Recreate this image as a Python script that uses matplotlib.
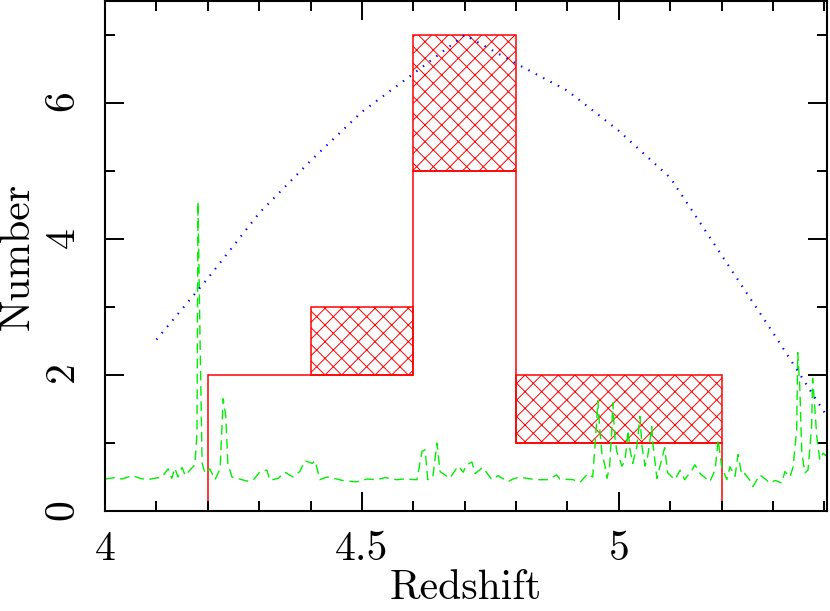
import matplotlib
matplotlib.use("Agg")
import matplotlib.pyplot as plt
from matplotlib.ticker import MultipleLocator, FuncFormatter

# histogram (solid outline) and hatched upper boxes
bin_edges = [4.2, 4.4, 4.6, 4.8, 5.0, 5.2]
counts = [2, 2, 5, 1, 1]
hatch_left = [4.4, 4.6, 4.8]
hatch_width = [0.2, 0.2, 0.4]
hatch_bottom = [2, 5, 1]
hatch_height = [1, 2, 1]

# blue dotted model curve
model_z = [4.1, 4.2, 4.3, 4.4, 4.5, 4.6, 4.7, 4.8, 4.9, 5.0, 5.1, 5.2, 5.3, 5.4]
model_n = [2.52, 3.42, 4.38, 5.15, 5.87, 6.43, 7.0, 6.58, 6.18, 5.59, 4.9, 3.76, 2.62, 1.45]

# green dashed spectrum
spec_z = [4.000, 4.019, 4.033, 4.045, 4.054, 4.068, 4.082, 4.097, 4.111, 4.123,
          4.130, 4.136, 4.142, 4.150, 4.156, 4.165, 4.175, 4.179, 4.181, 4.185,
          4.189, 4.195, 4.204, 4.214, 4.224, 4.230, 4.235, 4.239, 4.247, 4.257,
          4.276, 4.288, 4.302, 4.315, 4.321, 4.337, 4.350, 4.366, 4.379, 4.389,
          4.403, 4.409, 4.418, 4.432, 4.451, 4.467, 4.490, 4.510, 4.529, 4.545,
          4.568, 4.580, 4.607, 4.617, 4.623, 4.628, 4.638, 4.646, 4.652, 4.671,
          4.687, 4.697, 4.704, 4.714, 4.720, 4.735, 4.753, 4.765, 4.784, 4.794,
          4.807, 4.821, 4.840, 4.860, 4.879, 4.885, 4.911, 4.924, 4.940, 4.949,
          4.953, 4.957, 4.959, 4.963, 4.967, 4.973, 4.977, 4.982, 4.986, 4.988,
          4.992, 4.996, 5.006, 5.012, 5.018, 5.021, 5.027, 5.035, 5.041, 5.045,
          5.051, 5.056, 5.064, 5.066, 5.074, 5.080, 5.089, 5.095, 5.109, 5.119,
          5.128, 5.142, 5.148, 5.158, 5.177, 5.187, 5.191, 5.193, 5.200, 5.210,
          5.216, 5.226, 5.232, 5.239, 5.245, 5.255, 5.261, 5.274, 5.280, 5.294,
          5.304, 5.317, 5.323, 5.333, 5.339, 5.346, 5.348, 5.352, 5.356, 5.362,
          5.368, 5.375, 5.377, 5.381, 5.385, 5.391, 5.397, 5.405]
spec_n = [0.47, 0.49, 0.47, 0.50, 0.52, 0.48, 0.46, 0.48, 0.50, 0.62,
          0.48, 0.63, 0.50, 0.64, 0.52, 0.60, 0.68, 1.15, 4.55, 2.50,
          0.70, 0.55, 0.62, 0.46, 0.62, 1.65, 1.40, 0.70, 0.50, 0.48,
          0.44, 0.45, 0.58, 0.60, 0.45, 0.48, 0.57, 0.50, 0.58, 0.74,
          0.70, 0.74, 0.46, 0.50, 0.47, 0.44, 0.43, 0.47, 0.46, 0.49,
          0.46, 0.47, 0.46, 0.88, 0.90, 0.46, 0.50, 1.00, 0.58, 0.48,
          0.66, 0.57, 0.68, 0.72, 0.55, 0.64, 0.46, 0.52, 0.43, 0.47,
          0.50, 0.48, 0.46, 0.46, 0.53, 0.47, 0.46, 0.42, 0.55, 0.50,
          0.90, 1.34, 1.62, 1.19, 0.85, 0.66, 0.48, 0.66, 1.17, 1.59,
          1.10, 0.87, 0.66, 0.75, 1.19, 0.93, 0.70, 0.95, 1.39, 0.95,
          0.66, 0.80, 1.24, 1.00, 0.48, 0.66, 0.93, 0.56, 0.46, 0.60,
          0.46, 0.60, 0.68, 0.55, 0.43, 0.60, 0.87, 1.05, 0.66, 0.46,
          0.65, 0.51, 0.83, 0.53, 0.55, 0.45, 0.36, 0.53, 0.50, 0.41,
          0.45, 0.41, 0.58, 0.50, 0.65, 1.19, 2.33, 1.83, 0.85, 0.56,
          0.60, 1.24, 1.95, 1.54, 1.10, 0.75, 0.85, 0.80]

plt.rcParams['font.family'] = 'cmr10'
plt.rcParams['axes.formatter.use_mathtext'] = True
plt.rcParams['hatch.linewidth'] = 0.7
plt.rcParams['hatch.color'] = 'red'

fig = plt.figure(figsize=(8.3, 6.11), dpi=100)
ax = fig.add_axes([0.1265, 0.1637, 0.8699, 0.8347])

ax.plot(spec_z, spec_n, color='#00ee00', lw=1.0, dashes=(7, 4))
ax.plot(model_z, model_n, color='blue', lw=1.5, dashes=(0.7, 3.3))

ax.stairs(counts, bin_edges, baseline=0, color='red', lw=1.1)
ax.bar(hatch_left, hatch_height, width=hatch_width, bottom=hatch_bottom,
       align='edge', fill=False, hatch='xx', edgecolor='red', lw=1.1)

ax.set_xlim(4.0, 5.405)
ax.set_ylim(0, 7.5)

ax.xaxis.set_major_locator(MultipleLocator(0.5))
ax.xaxis.set_minor_locator(MultipleLocator(0.1))
ax.yaxis.set_major_locator(MultipleLocator(2))
ax.yaxis.set_minor_locator(MultipleLocator(1))
ax.xaxis.set_major_formatter(FuncFormatter(lambda v, p: '%g' % v))

ax.tick_params(which='both', direction='in', top=True, right=True, width=1.4)
ax.tick_params(which='major', length=14)
ax.tick_params(which='minor', length=7)
ax.tick_params(axis='x', labelsize=30, pad=14)
ax.tick_params(axis='y', labelsize=30, pad=16, labelrotation=90)
for lab in ax.get_yticklabels():
    lab.set_va('center')
for s in ax.spines.values():
    s.set_linewidth(1.5)

ax.set_xlabel('Redshift', fontsize=30, labelpad=1)
ax.set_ylabel('Number', fontsize=30, labelpad=6)

fig.savefig('out.png', dpi=100)
